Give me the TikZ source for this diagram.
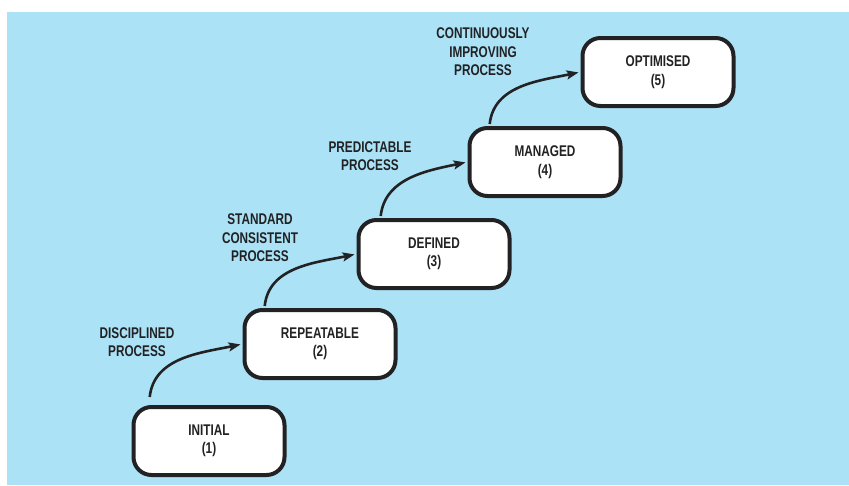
\documentclass[tikz,border=0pt]{standalone}
\usepackage{fontspec}
\newfontfamily\stagefont{Liberation Sans}[FakeStretch=0.76]
\usetikzlibrary{arrows.meta}
\begin{document}
\begin{tikzpicture}[x=1pt, y=1pt]
% Maturity ladder on a pixel grid: origin top left, rows counted downwards
\definecolor{cmmPanelColor}{RGB}{171,226,246}
\definecolor{cmmInkColor}{RGB}{34,34,36}
\providecommand{\cmmBoxLineWidth}{4pt}
\providecommand{\cmmFlowLineWidth}{2.6pt}
\providecommand{\cmmBoxRadius}{18pt}
\useasboundingbox (0,0) rectangle (849,-485);
% Panel
\fill[cmmPanelColor] (7,-12) rectangle (849,-485);
\begin{scope}[
  stagebox/.style={draw=cmmInkColor, fill=white, line width=\cmmBoxLineWidth,
    rounded corners=\cmmBoxRadius, minimum width=151pt, minimum height=68pt,
    align=center, text=cmmInkColor, font=\stagefont\bfseries\fontsize{15.5}{18.5}\selectfont},
  steplabel/.style={align=center, text=cmmInkColor,
    font=\stagefont\bfseries\fontsize{15.5}{18.5}\selectfont},
  flow/.style={draw=cmmInkColor, line width=\cmmFlowLineWidth,
    -{Stealth[length=12pt, width=9pt, inset=2.5pt]}, shorten <=2pt, shorten >=2pt}]
  % Stages
  \node[stagebox] (initial)    at (209,-441) {INITIAL\\(1)};
  \node[stagebox] (repeatable) at (320,-344) {REPEATABLE\\(2)};
  \node[stagebox] (defined)    at (434,-254) {DEFINED\\(3)};
  \node[stagebox] (managed)    at (545,-162) {MANAGED\\(4)};
  \node[stagebox] (optimised)  at (658,-72)  {OPTIMISED\\(5)};
  % Process labels
  \node[steplabel] (disciplined) at (137,-342) {DISCIPLINED\\PROCESS};
  \node[steplabel] (standard)    at (260,-238) {STANDARD\\CONSISTENT\\PROCESS};
  \node[steplabel] (predictable) at (370,-156) {PREDICTABLE\\PROCESS};
  \node[steplabel] (improving)   at (483,-52)  {CONTINUOUSLY\\IMPROVING\\PROCESS};
  % Steps up the ladder
  \draw[flow] ([xshift=18pt, yshift=6pt]initial.north west) to[out=84, in=192] (repeatable.west);
  \draw[flow] ([xshift=22pt]repeatable.north west) to[out=84, in=192] (defined.west);
  \draw[flow] ([xshift=24pt]defined.north west) to[out=84, in=192] (managed.west);
  \draw[flow] ([xshift=22pt]managed.north west) to[out=84, in=192] (optimised.west);
\end{scope}
\end{tikzpicture}
\end{document}
